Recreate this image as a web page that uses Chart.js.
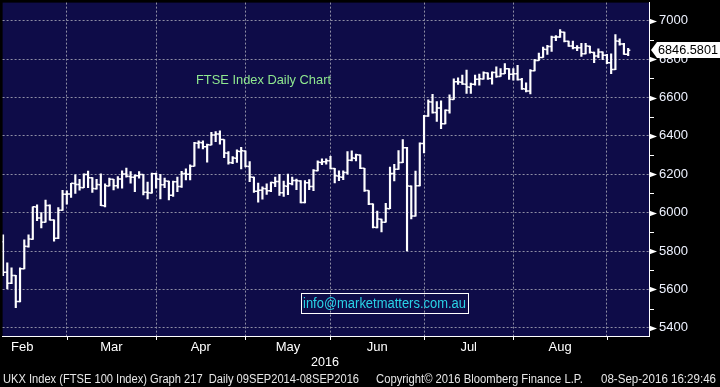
<!DOCTYPE html>
<html>
<head>
<meta charset="utf-8">
<script src="https://cdn.jsdelivr.net/npm/chart.js@4.4.0/dist/chart.umd.min.js"></script>
<style>
  html, body { margin: 0; padding: 0; background: #000; }
  #wrap { width: 720px; height: 387px; }
</style>
</head>
<body>
<div id="wrap"><canvas id="ftseChart"></canvas></div>
<script>
// --- data: FTSE 100 daily bars, 08 Feb 2016 - 07 Sep 2016 ---
const days = [
  '2016-02-08','2016-02-09','2016-02-10','2016-02-11','2016-02-12','2016-02-15','2016-02-16','2016-02-17','2016-02-18','2016-02-19',
  '2016-02-22','2016-02-23','2016-02-24','2016-02-25','2016-02-26','2016-02-29',
  '2016-03-01','2016-03-02','2016-03-03','2016-03-04','2016-03-07','2016-03-08','2016-03-09','2016-03-10','2016-03-11','2016-03-14',
  '2016-03-15','2016-03-16','2016-03-17','2016-03-18','2016-03-21','2016-03-22','2016-03-23','2016-03-24','2016-03-29','2016-03-30','2016-03-31',
  '2016-04-01','2016-04-04','2016-04-05','2016-04-06','2016-04-07','2016-04-08','2016-04-11','2016-04-12','2016-04-13','2016-04-14',
  '2016-04-15','2016-04-18','2016-04-19','2016-04-20','2016-04-21','2016-04-22','2016-04-25','2016-04-26','2016-04-27','2016-04-28','2016-04-29',
  '2016-05-03','2016-05-04','2016-05-05','2016-05-06','2016-05-09','2016-05-10','2016-05-11','2016-05-12','2016-05-13','2016-05-16',
  '2016-05-17','2016-05-18','2016-05-19','2016-05-20','2016-05-23','2016-05-24','2016-05-25','2016-05-26','2016-05-27','2016-05-31',
  '2016-06-01','2016-06-02','2016-06-03','2016-06-06','2016-06-07','2016-06-08','2016-06-09','2016-06-10','2016-06-13','2016-06-14',
  '2016-06-15','2016-06-16','2016-06-17','2016-06-20','2016-06-21','2016-06-22','2016-06-23','2016-06-24','2016-06-27','2016-06-28','2016-06-29','2016-06-30',
  '2016-07-01','2016-07-04','2016-07-05','2016-07-06','2016-07-07','2016-07-08','2016-07-11','2016-07-12','2016-07-13','2016-07-14',
  '2016-07-15','2016-07-18','2016-07-19','2016-07-20','2016-07-21','2016-07-22','2016-07-25','2016-07-26','2016-07-27','2016-07-28','2016-07-29',
  '2016-08-01','2016-08-02','2016-08-03','2016-08-04','2016-08-05','2016-08-08','2016-08-09','2016-08-10','2016-08-11','2016-08-12',
  '2016-08-15','2016-08-16','2016-08-17','2016-08-18','2016-08-19','2016-08-22','2016-08-23','2016-08-24','2016-08-25','2016-08-26','2016-08-30','2016-08-31',
  '2016-09-01','2016-09-02','2016-09-05','2016-09-06','2016-09-07'
];

const opens = [
  5848,5689,5632,5672,5537,5707,5824,5862,6030,5972, 5950,6037,5962,5867,6012,6096,
  6097,6152,6147,6130,6199,6182,6125,6146,6036,6139, 6174,6140,6175,6201,6189,6184,6192,6199,6106,6103,6203,
  6174,6146,6164,6091,6161,6136,6204,6200,6242,6362, 6365,6343,6353,6405,6410,6381,6310,6260,6284,6319,6322,
  6241,6185,6112,6117,6125,6114,6156,6162,6104,6138, 6151,6167,6165,6053,6156,6136,6219,6262,6265,6270,
  6230,6191,6185,6209,6273,6284,6301,6231,6115,6045, 5923,5966,5950,6021,6204,6226,6261,6338,6138,5982,6140,6360,
  6504,6577,6522,6545,6463,6533,6590,6682,6680,6670, 6654,6669,6695,6697,6728,6699,6730,6710,6724,6750,6721,
  6724,6694,6645,6634,6740,6793,6809,6851,6866,6914, 6916,6941,6893,6869,6859,6859,6828,6868,6835,6816,6838,6820,
  6781,6746,6894,6879,6826
];

const highs = [
  5885,5738,5713,5673,5713,5858,5885,6031,6041,6001, 6065,6041,5962,6027,6117,6114,
  6153,6197,6174,6203,6217,6183,6174,6203,6150,6180, 6174,6188,6218,6232,6214,6197,6214,6199,6159,6206,6206,
  6200,6180,6165,6165,6185,6215,6228,6249,6366,6374, 6374,6357,6419,6423,6426,6381,6318,6292,6328,6340,6322,
  6266,6185,6154,6135,6150,6160,6185,6200,6165,6201, 6185,6175,6167,6167,6172,6224,6270,6281,6281,6293,
  6231,6218,6218,6319,6322,6305,6301,6231,6115,6046, 6008,5966,6048,6238,6252,6324,6381,6341,6140,6217,6364,6507,
  6588,6617,6579,6583,6536,6614,6697,6703,6717,6743, 6675,6717,6722,6734,6729,6734,6760,6751,6777,6751,6751,
  6768,6700,6677,6746,6799,6832,6863,6872,6920,6923, 6954,6941,6894,6894,6871,6883,6883,6868,6837,6854,6838,6825,
  6828,6928,6906,6883,6856
];

const lows = [
  5672,5604,5630,5505,5535,5707,5820,5860,5958,5920, 5950,5961,5851,5865,6012,6044,
  6079,6100,6117,6130,6130,6105,6122,6036,6030,6139, 6119,6128,6128,6185,6154,6110,6180,6093,6072,6102,6128,
  6072,6130,6067,6085,6110,6131,6171,6171,6242,6336, 6332,6263,6353,6370,6357,6287,6253,6255,6262,6228,6238,
  6162,6105,6055,6070,6095,6110,6135,6090,6085,6094, 6145,6120,6051,6051,6120,6115,6218,6250,6253,6228,
  6155,6167,6172,6201,6270,6270,6229,6111,6042,5921, 5921,5899,5950,6021,6166,6226,6260,5800,5967,5982,6140,6312,
  6502,6519,6476,6438,6463,6519,6590,6669,6669,6622, 6622,6665,6665,6696,6695,6670,6705,6710,6724,6694,6691,
  6690,6643,6630,6619,6739,6793,6809,6825,6840,6897, 6914,6890,6866,6854,6845,6815,6828,6832,6782,6808,6797,6777,
  6725,6746,6873,6825,6818
];

const closes = [
  5689.4,5632.2,5672.3,5537.0,5707.6,5824.3,5862.2,6030.3,5972.0,5950.2, 6037.7,5962.3,5867.2,6012.8,6096.0,6097.1,
  6152.9,6147.1,6130.5,6199.4,6182.4,6125.4,6146.3,6036.7,6139.8,6174.6, 6140.0,6175.5,6201.1,6189.6,6184.6,6192.7,6199.1,6106.5,6103.8,6203.2,6174.9,
  6146.1,6164.7,6091.2,6161.6,6136.9,6204.4,6200.1,6242.4,6362.9,6365.1, 6343.8,6353.5,6405.4,6410.3,6381.4,6310.4,6260.9,6284.5,6319.9,6322.4,6241.9,
  6185.6,6112.0,6117.3,6125.7,6114.8,6156.7,6162.5,6104.2,6138.5,6151.4, 6167.8,6165.8,6053.4,6156.3,6136.4,6219.3,6262.9,6265.7,6270.8,6230.8,
  6191.9,6185.6,6209.6,6273.4,6284.5,6301.5,6231.9,6115.8,6045.0,5923.5, 5966.8,5950.5,6021.1,6204.0,6226.6,6261.2,6338.1,6138.7,5982.2,6140.4,6360.1,6504.3,
  6577.8,6522.3,6545.4,6463.6,6533.8,6590.6,6682.9,6680.7,6670.4,6654.5, 6669.2,6695.4,6697.4,6728.9,6699.9,6730.5,6710.1,6724.0,6750.4,6721.1,6724.4,
  6694.0,6645.4,6634.4,6740.2,6793.4,6809.1,6851.3,6866.4,6914.7,6916.0, 6941.2,6893.9,6869.0,6859.2,6859.0,6828.5,6868.5,6835.8,6816.9,6838.1,6820.8,6781.5,
  6746.0,6894.6,6879.4,6826.1,6846.58
];

const monthNames = ['Jan','Feb','Mar','Apr','May','Jun','Jul','Aug','Sep'];
const yTickValues = [5400,5500,5600,5700,5800,5900,6000,6100,6200,6300,6400,6500,6600,6700,6800,6900,7000];
const lastPriceText = '6846.5801';

// --- layout / colours ---
const NAVY = '#0e0c48';
const GRID = '#8e8ea4';
const FONT = 'Liberation Sans, Arial, sans-serif';

// month boundaries = last trading day of each month (where Bloomberg puts the grid line)
const boundaries = [];
const monthMids = {};
for (let i = 0; i < days.length - 1; i++) {
  if (days[i].slice(5, 7) !== days[i + 1].slice(5, 7)) boundaries.push(i);
}
boundaries.forEach((b, k) => {
  // first month is partial, centre its label half a month before the boundary
  const mid = k === 0 ? b - 10.5 : (boundaries[k - 1] + b) / 2;
  monthMids[mid] = monthNames[parseInt(days[b].slice(5, 7), 10) - 1];
});
const xTickValues = boundaries.concat(Object.keys(monthMids).map(Number)).sort((a, b) => a - b);

const frame = {
  id: 'frame',
  beforeDraw(chart) {
    const { ctx, chartArea: a } = chart;
    ctx.save();
    ctx.fillStyle = '#000';
    ctx.fillRect(0, 0, chart.width, chart.height);
    ctx.fillStyle = NAVY;
    ctx.fillRect(a.left, a.top, a.right - a.left, a.bottom - a.top);
    ctx.restore();
  },
  afterDraw(chart) {
    const { ctx, chartArea: a, scales } = chart;
    const ys = scales.y, xs = scales.x;
    ctx.save();

    // y axis tick marks: arrow heads on majors, short lines on minors
    ctx.fillStyle = '#fff';
    ctx.strokeStyle = '#fff';
    ctx.lineWidth = 1;
    yTickValues.forEach(v => {
      const y = Math.round(ys.getPixelForValue(v)) + 0.5;
      if (v % 200 === 0) {
        ctx.beginPath();
        ctx.moveTo(a.right, y - 3);
        ctx.lineTo(a.right + 8, y);
        ctx.lineTo(a.right, y + 3);
        ctx.closePath();
        ctx.fill();
      } else {
        ctx.beginPath();
        ctx.moveTo(a.right, y);
        ctx.lineTo(a.right + 5, y);
        ctx.stroke();
      }
    });

    // x axis tick marks at month boundaries
    boundaries.forEach(b => {
      const x = Math.round(xs.getPixelForValue(b)) + 0.5;
      ctx.beginPath();
      ctx.moveTo(x, a.bottom);
      ctx.lineTo(x, a.bottom + 4);
      ctx.stroke();
    });

    ctx.textBaseline = 'middle';
    ctx.textAlign = 'left';

    // chart title
    ctx.fillStyle = '#8fe88f';
    ctx.font = '13px ' + FONT;
    ctx.fillText('FTSE Index Daily Chart', 196, 80, 135);

    // e-mail box
    ctx.strokeStyle = '#fff';
    ctx.strokeRect(301.5, 293.5, 167, 20);
    ctx.fillStyle = '#2ad2e6';
    ctx.font = '14px ' + FONT;
    ctx.fillText('info@marketmatters.com.au', 303, 304, 163);

    // year label
    ctx.fillStyle = '#fff';
    ctx.font = '13px ' + FONT;
    ctx.fillText('2016', 311, 362, 28);

    // footer
    ctx.fillStyle = '#e6e6e6';
    ctx.font = '12px ' + FONT;
    ctx.fillText('UKX Index (FTSE 100 Index) Graph 217  Daily 09SEP2014-08SEP2016', 3, 380, 356);
    ctx.fillText('Copyright\u00a9 2016 Bloomberg Finance L.P.', 376, 380, 207);
    ctx.fillText('08-Sep-2016 16:29:46', 601, 380, 115);

    // last price tag
    const py = Math.round(ys.getPixelForValue(closes[closes.length - 1]));
    ctx.fillStyle = '#fff';
    ctx.beginPath();
    ctx.moveTo(a.right + 2, py);
    ctx.lineTo(a.right + 8, py - 8);
    ctx.lineTo(chart.width, py - 8);
    ctx.lineTo(chart.width, py + 8);
    ctx.lineTo(a.right + 8, py + 8);
    ctx.closePath();
    ctx.fill();
    ctx.fillStyle = '#000';
    ctx.font = '13px ' + FONT;
    ctx.fillText(lastPriceText, a.right + 9, py + 0.5, 60);

    ctx.restore();
  }
};

const tickPoint = {
  type: 'line',
  showLine: false,
  pointStyle: 'line',
  pointRadius: 1.1,
  pointHoverRadius: 1.1,
  pointBorderWidth: 1.5,
  pointBorderColor: '#fff',
  borderColor: '#fff'
};

new Chart(document.getElementById('ftseChart'), {
  type: 'bar',
  data: {
    datasets: [
      {
        type: 'bar',
        data: days.map((d, i) => ({ x: i, y: [lows[i], highs[i]] })),
        backgroundColor: '#fff',
        borderWidth: 0,
        barThickness: 1.5
      },
      Object.assign({ data: opens.map((v, i) => ({ x: i - 0.25, y: v })) }, tickPoint),
      Object.assign({ data: closes.map((v, i) => ({ x: i + 0.25, y: v })) }, tickPoint)
    ]
  },
  options: {
    responsive: true,
    maintainAspectRatio: false,
    animation: false,
    events: [],
    layout: { padding: 0 },
    plugins: { legend: { display: false }, tooltip: { enabled: false } },
    scales: {
      x: {
        type: 'linear',
        min: -0.1,
        max: 151.9,
        offset: false,
        afterBuildTicks: s => { s.ticks = xTickValues.map(v => ({ value: v })); },
        afterFit: s => { s.height = 51; s.paddingLeft = 0; s.paddingRight = 0; },
        grid: {
          offset: false,
          drawTicks: false,
          color: c => (c.tick && boundaries.includes(c.tick.value)) ? GRID : 'rgba(0,0,0,0)'
        },
        border: { display: true, color: '#fff', width: 1, dash: [2, 2] },
        ticks: {
          autoSkip: false,
          maxRotation: 0,
          padding: 4,
          color: '#fff',
          font: { family: FONT, size: 13 },
          callback: v => monthMids[v] || ''
        }
      },
      y: {
        position: 'right',
        min: 5357,
        max: 7095,
        afterBuildTicks: s => { s.ticks = yTickValues.map(v => ({ value: v })); },
        afterFit: s => { s.width = 71; s.paddingTop = 0; s.paddingBottom = 0; },
        grid: {
          drawTicks: false,
          color: c => (c.tick && c.tick.value % 200 === 0) ? GRID : 'rgba(0,0,0,0)'
        },
        border: { display: true, color: '#fff', width: 1, dash: [2, 2] },
        ticks: {
          autoSkip: false,
          padding: 10,
          color: '#eef2ff',
          font: { family: FONT, size: 13 },
          callback: v => (v % 200 === 0 ? String(v) : '')
        }
      }
    }
  },
  plugins: [frame]
});
</script>
</body>
</html>
